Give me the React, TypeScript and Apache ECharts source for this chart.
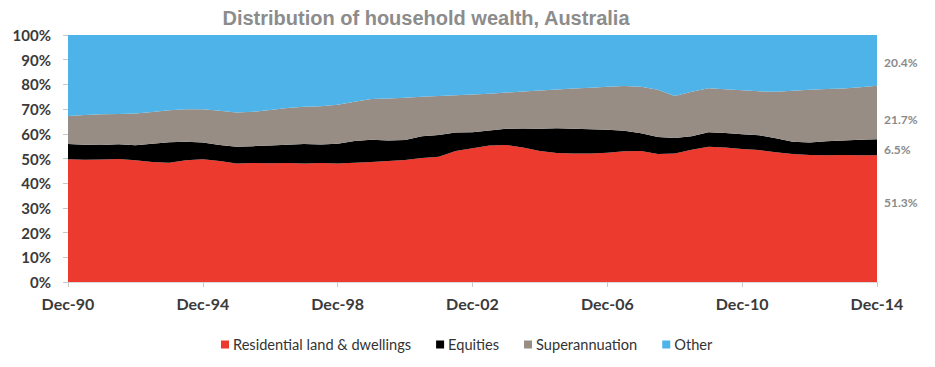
import React, { useEffect, useRef } from "react";
import * as echarts from "echarts";

const categories = [
  "Dec-90", "Jun-91", "Dec-91", "Jun-92", "Dec-92", "Jun-93", "Dec-93", "Jun-94",
  "Dec-94", "Jun-95", "Dec-95", "Jun-96", "Dec-96", "Jun-97", "Dec-97", "Jun-98",
  "Dec-98", "Jun-99", "Dec-99", "Jun-00", "Dec-00", "Jun-01", "Dec-01", "Jun-02",
  "Dec-02", "Jun-03", "Dec-03", "Jun-04", "Dec-04", "Jun-05", "Dec-05", "Jun-06",
  "Dec-06", "Jun-07", "Dec-07", "Jun-08", "Dec-08", "Jun-09", "Dec-09", "Jun-10",
  "Dec-10", "Jun-11", "Dec-11", "Jun-12", "Dec-12", "Jun-13", "Dec-13", "Jun-14",
  "Dec-14",
];

const residential = [
  49.7, 49.5, 49.6, 49.8, 49.3, 48.6, 48.3, 49.3, 49.7, 49.0, 48.0, 48.2, 48.1, 48.2,
  48.0, 48.2, 48.0, 48.3, 48.6, 49.0, 49.4, 50.2, 50.7, 53.0, 54.2, 55.3, 55.5, 54.5,
  53.0, 52.2, 52.0, 52.0, 52.3, 52.9, 53.0, 51.8, 52.0, 53.5, 54.8, 54.5, 53.8, 53.4,
  52.5, 51.8, 51.4, 51.3, 51.4, 51.3, 51.3,
];

const equities = [
  6.2, 6.1, 5.9, 6.0, 6.1, 7.4, 8.3, 7.5, 6.8, 6.5, 6.8, 6.8, 7.2, 7.4, 7.9, 7.5, 8.0,
  8.8, 9.0, 8.3, 8.1, 8.8, 8.8, 7.5, 6.4, 6.0, 6.5, 7.6, 9.0, 10.0, 10.0, 9.8, 9.3, 8.3,
  7.2, 6.9, 6.3, 5.5, 5.8, 5.8, 6.0, 6.0, 5.7, 5.0, 5.1, 5.7, 5.9, 6.3, 6.5,
];

const superannuation = [
  11.3, 12.0, 12.4, 12.2, 12.8, 12.8, 12.9, 13.1, 13.4, 13.8, 13.8, 13.9, 14.3, 14.8,
  15.1, 15.5, 15.8, 15.9, 16.5, 17.0, 17.1, 16.0, 15.8, 15.1, 15.3, 14.9, 14.7, 15.0,
  15.5, 15.7, 16.3, 16.8, 17.4, 18.2, 18.8, 19.1, 17.0, 18.0, 17.8, 17.7, 17.8, 17.8,
  18.8, 20.6, 21.3, 21.1, 21.0, 21.2, 21.7,
];

const other = [
  32.8, 32.4, 32.1, 32.0, 31.8, 31.2, 30.5, 30.1, 30.1, 30.7, 31.4, 31.1, 30.4, 29.6,
  29.0, 28.8, 28.2, 27.0, 25.9, 25.7, 25.4, 25.0, 24.7, 24.4, 24.1, 23.8, 23.3, 22.9,
  22.5, 22.1, 21.7, 21.4, 21.0, 20.6, 21.0, 22.2, 24.7, 23.0, 21.6, 22.0, 22.4, 22.8,
  23.0, 22.6, 22.2, 21.9, 21.7, 21.2, 20.5,
];

const seriesNames = ["Residential land & dwellings", "Equities", "Superannuation", "Other"];
const seriesColors = ["#EC3A2E", "#000000", "#978D85", "#4DB3E8"];

// end-of-period annotations: text and the axis value at which each sits
const endLabels = ["20.4%", "21.7%", "6.5%", "51.3%"];
const endLabelValues = [88.7, 65.6, 53.8, 32.0];

export default function App() {
  const ref = useRef<HTMLDivElement>(null);

  useEffect(() => {
    document.body.style.margin = "0";
    if (!ref.current) return;
    const chart = echarts.init(ref.current, undefined, { renderer: "svg" });
    const dataSets = [residential, equities, superannuation, other];
    chart.setOption({
      animation: false,
      backgroundColor: "#ffffff",
      title: {
        text: "Distribution of household wealth, Australia",
        left: 421,
        top: 3,
        textAlign: "center",
        textStyle: {
          fontFamily: "Liberation Sans, Arial, sans-serif",
          fontSize: 20,
          fontWeight: "bold",
          color: "#8c8c8c",
        },
      },
      legend: {
        data: seriesNames,
        left: 216,
        top: 332,
        icon: "rect",
        itemWidth: 8,
        itemHeight: 8,
        itemGap: 25,
        textStyle: {
          fontFamily: "Lato, sans-serif",
          fontSize: 14.6,
          color: "#333333",
          padding: [0, 0, 0, -1],
        },
      },
      grid: { left: 68, right: 58, top: 35, bottom: 85, containLabel: false },
      xAxis: {
        type: "category",
        data: categories,
        boundaryGap: false,
        axisLine: { show: true, lineStyle: { color: "#d9d9d9" } },
        axisTick: { show: true, interval: 7, length: 5, lineStyle: { color: "#c8c8c8" } },
        axisLabel: {
          interval: 7,
          margin: 13,
          fontFamily: "Lato, sans-serif",
          fontSize: 16,
          fontWeight: "bold",
          color: "#3a3a3a",
        },
        splitLine: { show: false },
      },
      yAxis: {
        type: "value",
        min: 0,
        max: 100,
        interval: 10,
        axisLine: { show: true, lineStyle: { color: "#d9d9d9" } },
        axisTick: { show: true, length: 5, lineStyle: { color: "#c8c8c8" } },
        axisLabel: {
          formatter: "{value}%",
          margin: 17,
          fontFamily: "Lato, sans-serif",
          fontSize: 15,
          fontWeight: "bold",
          color: "#3a3a3a",
        },
        splitLine: { show: false },
      },
      series: seriesNames.map((name, i) => ({
        name,
        type: "line",
        stack: "total",
        data: dataSets[i],
        showSymbol: false,
        symbol: "none",
        lineStyle: { width: 0 },
        areaStyle: { color: seriesColors[i], opacity: 1 },
        itemStyle: { color: seriesColors[i] },
      })),
    });

    const xRight = chart.convertToPixel({ xAxisIndex: 0 }, categories[categories.length - 1]) as number;
    chart.setOption({
      graphic: endLabels.map((t, i) => ({
        type: "text",
        x: xRight + 7,
        y: chart.convertToPixel({ yAxisIndex: 0 }, endLabelValues[i]) as number,
        style: {
          text: t,
          fill: "#8a8a8a",
          font: "bold 12px Lato, sans-serif",
          textVerticalAlign: "middle",
        },
      })),
    });

    return () => chart.dispose();
  }, []);

  return <div ref={ref} style={{ width: 935, height: 367 }} />;
}
